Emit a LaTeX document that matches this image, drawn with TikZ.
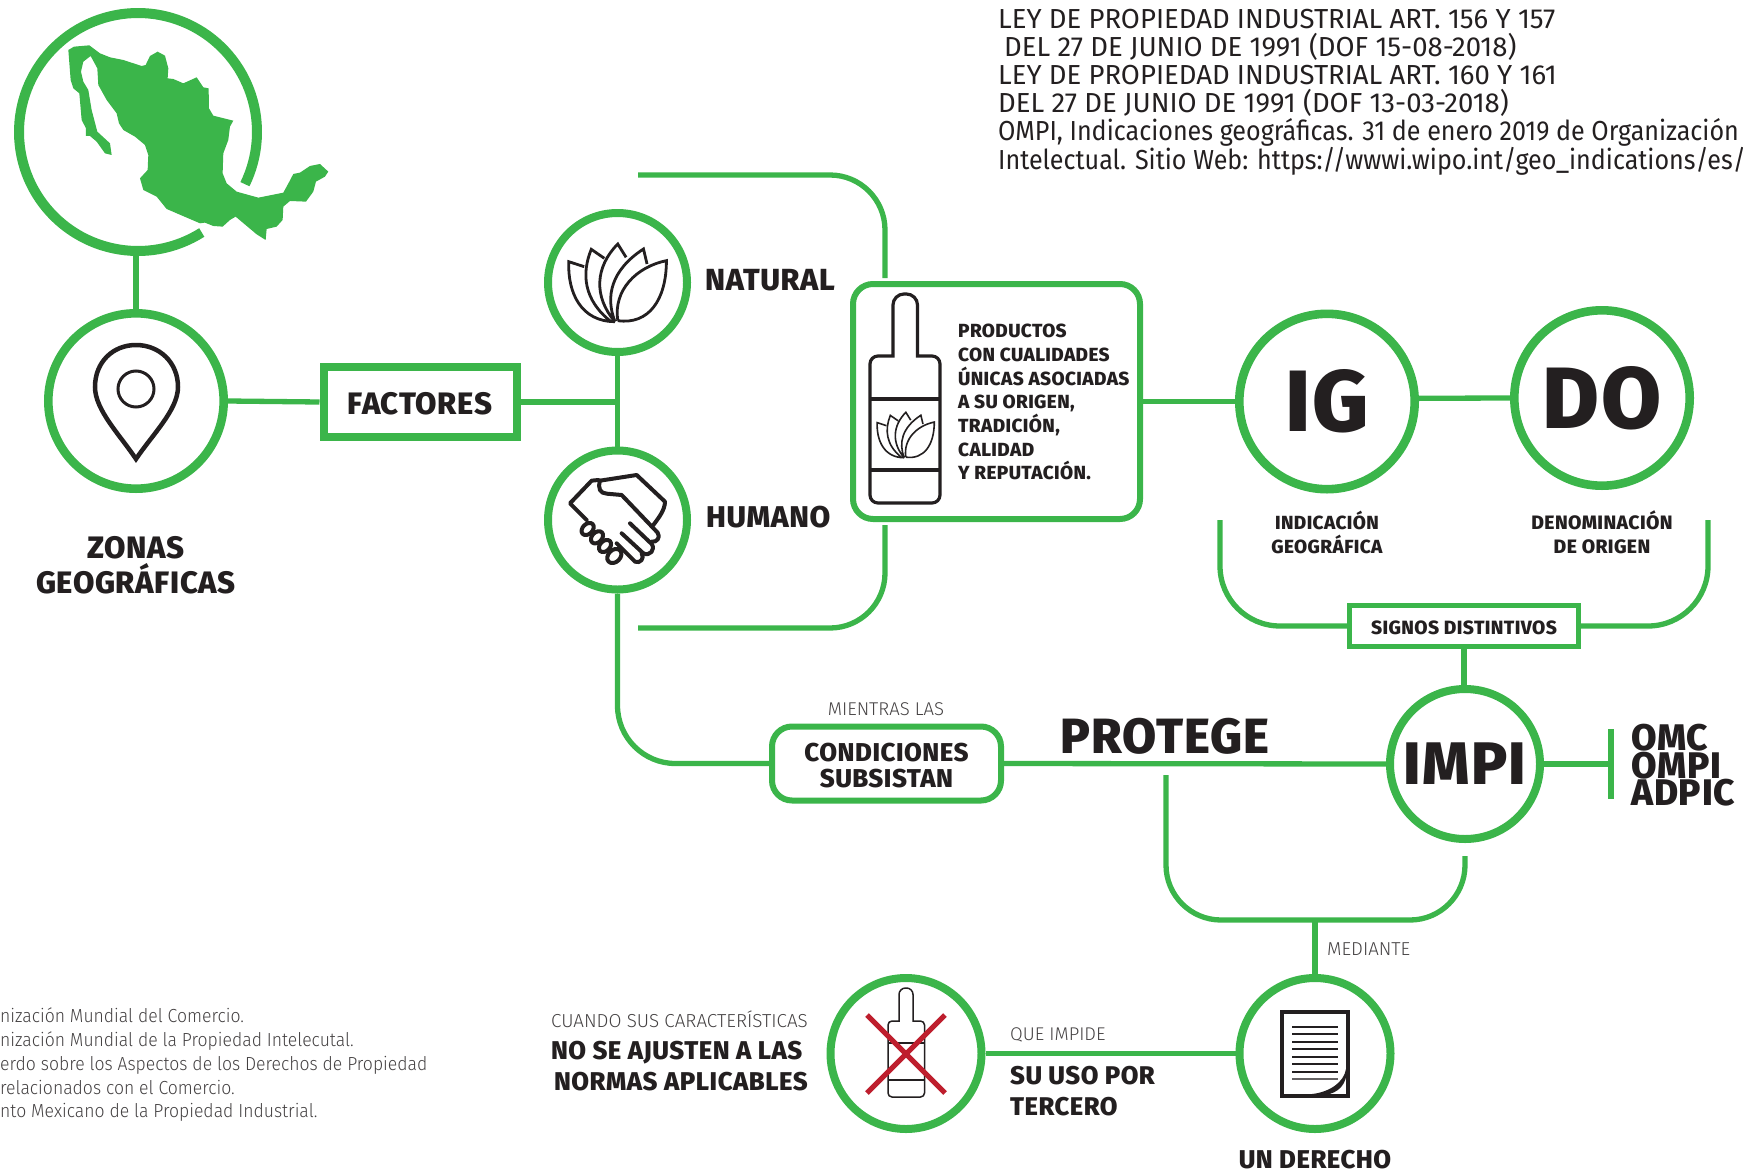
\documentclass[tikz,border=0pt]{standalone}
\usepackage{fontspec}
\usetikzlibrary{backgrounds,calc}
\setmainfont{Fira Sans}
\newfontfamily\fb[LetterSpace=2]{Fira Sans ExtraBold}
\newfontfamily\fl{Fira Sans Light}
\newfontfamily\flc[FakeStretch=0.93]{Fira Sans Light}
\newfontfamily\frc[FakeStretch=0.913]{Fira Sans}
\definecolor{gr}{HTML}{3BB54A}
\definecolor{ink}{HTML}{231F20}
\definecolor{xr}{HTML}{BE1E2D}
\newcommand{\fsz}[1]{\fontsize{#1}{#1}\selectfont}
\newcommand{\fszl}[2]{\fontsize{#1}{#2}\selectfont}
\newcommand{\lotusicon}[1]{%
\draw[ink,line width=#1,line join=miter]
 (222,362) .. controls (210,270) and (270,200) .. (345,182) .. controls (345,300) and (300,375) .. (222,362)
 (215,365) .. controls (190,290) and (205,210) .. (287,147) -- (296,192)
 (215,365) .. controls (160,290) and (165,200) .. (222,132) -- (243,172)
 (205,365) .. controls (135,300) and (130,220) .. (155,148) -- (188,175)
 (215,365) .. controls (130,365) and (95,280) .. (98,185) -- (137,200);}
\newcommand{\neckR}{11pt}
\newcommand{\shoulderR}{8pt}
\newcommand{\bottleicon}[9]{%
\draw[ink] (#3,#6) [rounded corners=\neckR] -- (#3,#5) -- (#4,#5) [sharp corners] -- (#4,#6) [rounded corners=\shoulderR] -- (#2,#6) -- (#2,#9) -- (#1,#9) -- (#1,#6) [sharp corners] -- cycle;
\draw[ink] (#1,#7) -- (#2,#7) (#1,#8) -- (#2,#8);}
\tikzset{
 x=1pt,y=-1pt,
 conn/.style={draw=gr,line width=5.3pt},
 ring/.style={circle,draw=gr,line width=8pt,fill=white,inner sep=0pt,minimum size=#1},
 bigring/.style={circle,draw=gr,line width=8.6pt,fill=white,inner sep=0pt,minimum size=#1},
 rbox/.style={draw=gr,fill=white,line width=6pt,rounded corners=20pt,inner sep=0pt},
 sbox/.style={draw=gr,fill=white,inner sep=0pt},
 lab/.style={text=ink,inner sep=0pt},
 thin lab/.style={text=ink!85,inner sep=0pt},
 ref/.style={text=ink,inner sep=0pt},
}
\begin{document}
\begin{tikzpicture}
\clip (0,0) rectangle (1743,1170);
% circles
\node[circle,inner sep=0pt,minimum size=247pt] (map) at (138,132) {};
\node[bigring=175.4pt] (pin) at (136,401) {};
\node[ring=139pt] (natural) at (617.5,282.5) {};
\node[ring=139pt] (humano) at (617.5,520) {};
\node[bigring=175.4pt] (ig) at (1327,401.5) {};
\node[bigring=175.4pt] (do) at (1602,398) {};
\node[ring=150pt] (impi) at (1465,764) {};
\node[ring=151pt] (der) at (1315,1053.5) {};
\node[ring=151pt] (xc) at (906,1053.5) {};
% boxes
\node[sbox,line width=8pt,minimum width=193pt,minimum height=70pt] (factores) at (420,402) {};
\node[rbox,minimum width=287pt,minimum height=235pt] (prod) at (996.5,401.5) {};
\node[rbox,minimum width=229pt,minimum height=74pt] (cond) at (886.5,763.5) {};
\node[sbox,line width=5pt,minimum width=229pt,minimum height=41pt] (signos) at (1464,626) {};
% free ends
\coordinate (bt) at (638,175);
\coordinate (btc) at (885,175);
\coordinate (bte) at (885,278);
\coordinate (bb) at (638,628);
\coordinate (bbc) at (885,628);
\coordinate (bbe) at (885,525);
\coordinate (sl) at (1220,520);
\coordinate (sr) at (1708,520);
\coordinate (bl) at (1166,775);
\coordinate (bc) at (1465,920);
\coordinate (br) at (1465,856);
\coordinate (tickt) at (1611,729);
\coordinate (tickb) at (1611,799);
\coordinate (tickm) at (1611,764);
% connectors
\begin{scope}[on background layer]
\draw[conn] (pin.north |- map.south) -- (pin.north);
\draw[conn] (pin.east) -- (factores.west);
\draw[conn] (factores.east) -- (factores.east -| natural.south);
\draw[conn] (natural.south) -- (humano.north);
\draw[conn,rounded corners=55pt] (bt) -- (btc) -- (bte);
\draw[conn,rounded corners=55pt] (bb) -- (bbc) -- (bbe);
\draw[conn] (prod.east) -- (ig.west);
\draw[conn] (ig.2) -- (do.west);
\draw[conn,rounded corners=60pt] (sl) |- (signos.west);
\draw[conn,rounded corners=60pt] (sr) |- (signos.east);
\draw[conn] (signos.south) -- (signos.south |- impi.north);
\draw[conn,rounded corners=58pt] (humano.south) |- (cond.west);
\draw[conn] (cond.east) -- (impi.west);
\draw[conn] (impi.east) -- (tickm);
\draw[conn] (tickt) -- (tickb);
\draw[conn,rounded corners=55pt] (bl) |- (bc) -- (br);
\draw[conn] (der.north |- bc) -- (der.north);
\draw[conn] (xc.east) -- (der.west);
\end{scope}
% map circle arc
\draw[gr,line width=10pt] plot[domain=57.6:386,samples=120] ({138+119*cos(\x)},{132+119*sin(\x)});
% Mexico
\begin{scope}[xscale=0.3333,yscale=0.3333]
\fill[gr] (205,150)--(222,140)--(268,136)--(300,160)--(330,172)--(370,180)--(425,198)--(437,195)--(450,168)--(473,155)--(495,167)--(505,205)--(503,235)--(520,237)--(550,250)--(590,232)--(610,262)--(626,265)--(627,325)--(640,347)--(700,362)--(690,380)--(685,420)--(670,460)--(668,520)--(680,550)--(710,575)--(775,593)--(850,578)--(868,545)--(880,522)--(900,518)--(930,498)--(960,492)--(985,515)--(975,530)--(948,545)--(940,575)--(918,605)--(870,603)--(850,620)--(848,660)--(830,680)--(800,687)--(797,720)--(770,703)--(707,650)--(690,660)--(668,680)--(640,678)--(615,668)--(600,670)--(500,627)--(470,590)--(430,570)--(420,535)--(443,510)--(445,465)--(435,435)--(405,410)--(370,390)--(357,370)--(350,340)--(320,300)--(295,255)--(292,205)--(272,168)--(250,185)--(243,215)--(250,245)--(265,270)--(275,330)--(292,395)--(330,430)--(335,465)--(315,460)--(290,425)--(270,408)--(258,408)--(258,385)--(245,360)--(238,280)--(220,265)--(212,240)--cycle;
\end{scope}
% pin icon
\draw[ink,line width=4.5pt,line join=miter] (136,459) .. controls (120,435) and (95,410) .. (95,387) .. controls (95,362) and (113,345) .. (136,345) .. controls (159,345) and (178,362) .. (178,387) .. controls (178,410) and (152,435) .. (136,459) -- cycle;
\draw[ink,line width=3pt] (136,389) circle[radius=18pt];
% lotus
\begin{scope}[shift={(530,200)},xscale=0.3954,yscale=0.3333]
\lotusicon{2.8pt}
\end{scope}
% handshake
\begin{scope}[shift={(555,460)},xscale=0.3333,yscale=0.3333,ink,line width=4pt,line join=round,line cap=round]
\draw (95,180) -- (45,130) -- (110,62) -- (130,60);
\draw (135,62) .. controls (128,85) and (135,100) .. (155,101) -- (200,105) -- (308,218) .. controls (318,232) and (305,248) .. (290,245);
\draw (135,62) -- (245,45) -- (330,125) .. controls (330,150) and (310,175) .. (295,195);
\draw (225,190) -- (290,252) .. controls (302,268) and (285,290) .. (265,280) -- (200,220);
\draw (260,280) .. controls (270,295) and (255,312) .. (240,305) -- (185,250);
\draw[rotate around={45:(98,207)}] (98,207) ellipse[x radius=21,y radius=15];
\draw[rotate around={45:(126,232)}] (126,232) ellipse[x radius=21,y radius=15];
\draw[rotate around={45:(150,258)}] (150,258) ellipse[x radius=21,y radius=15];
\draw[rotate around={45:(178,288)}] (178,288) ellipse[x radius=24,y radius=18];
\end{scope}
% bottle in box
\begin{scope}[line width=3.2pt]
\bottleicon{870}{940}{893}{917.5}{294}{356}{399}{470}{503}
\end{scope}
\begin{scope}[shift={(530,200)},xscale=0.3954,yscale=0.3333]
\begin{scope}[shift={(878,637)},scale=0.585,shift={(-98,-132)}]
\lotusicon{1.6pt}
\end{scope}
\end{scope}
% crossed bottle
\renewcommand{\neckR}{6.5pt}
\renewcommand{\shoulderR}{4pt}
\begin{scope}[line width=1.5pt]
\bottleicon{888}{924.5}{899}{913}{988}{1021}{1043}{1080}{1097}
\end{scope}
\draw[xr,line width=5pt] (867,1015) -- (945,1093) (945,1015) -- (867,1093);
% document icon
\draw[ink,line width=3.5pt] (1282,1012) rectangle (1348,1096);
\foreach \yy in {1027,1034,1042,1049,1057,1064,1072}{\draw[ink,line width=1.8pt] (1292,\yy) -- (1338,\yy);}
\draw[ink!70,line width=1.5pt] (1292,1079) -- (1338,1079);
\fill[ink] (1346,1069) .. controls (1344,1082) and (1330,1092) .. (1312,1094) -- (1325,1095) .. controls (1338,1093) and (1347,1085) .. (1347,1069) -- cycle;
% labels
\node[lab,font=\fb\fsz{31}] (tfac) at (420,404) {FACTORES};
\node[lab,font=\fb\fszl{31}{34.5},align=center] (tzon) at (136,565) {ZONAS\\GEOGRÁFICAS};
\node[lab,anchor=west,font=\fb\fsz{30.5}] (tnat) at (705,280) {NATURAL};
\node[lab,anchor=west,font=\fb\fsz{30}] (thum) at (706,517) {HUMANO};
\node[lab,anchor=north west,align=left,font=\fb\fszl{19}{23.7}] (tprod) at (958,324) {PRODUCTOS\\CON CUALIDADES\\ÚNICAS ASOCIADAS\\A SU ORIGEN,\\TRADICIÓN,\\CALIDAD\\Y REPUTACIÓN.};
\node[lab,font=\fb\fsz{87}] (tig) at (ig) {IG};
\node[lab,font=\fb\fsz{87}] (tdo) at (do) {DO};
\node[lab,align=center,font=\fb\fszl{19}{23.7}] (tind) at (1327,532.5) {INDICACIÓN\\GEOGRÁFICA};
\node[lab,align=center,font=\fb\fszl{19.4}{23.7}] (tden) at (1602,532.5) {DENOMINACIÓN\\DE ORIGEN};
\node[lab,font=\fb\fsz{19.2}] (tsig) at (1464,628) {SIGNOS DISTINTIVOS};
\node[lab,font=\fb\fsz{60}] (timpi) at (impi) {IMPI};
\node[lab,font=\fb\fsz{49.5}] (tpro) at (1165,736) {PROTEGE};
\node[lab,align=center,font=\fb\fszl{25.8}{26.5}] (tcond) at (886.5,765.5) {CONDICIONES\\SUBSISTAN};
\node[thin lab,font=\fl\fsz{18.5}] (tmie) at (886,709) {MIENTRAS LAS};
\node[lab,anchor=west,align=left,font=\fb\fszl{37}{27.5}] (tomc) at (1631,765.5) {OMC\\OMPI\\ADPIC};
\node[thin lab,anchor=west,font=\fl\fsz{18.7}] (tmed) at (1327,949) {MEDIANTE};
\node[thin lab,anchor=east,font=\fl\fsz{18.8}] (tcua) at (808,1019) {CUANDO SUS CARACTERÍSTICAS};
\node[lab,anchor=north east,align=right,font=\fb\fszl{25.7}{31.5}] (tno) at (808,1040.5) {NO SE AJUSTEN A LAS\rule{5.5pt}{0pt}\\NORMAS APLICABLES};
\node[thin lab,anchor=west,font=\fl\fsz{18.4}] (tque) at (1010,1035) {QUE IMPIDE};
\node[lab,anchor=north west,align=left,font=\fb\fszl{25.6}{31}] (tsu) at (1010,1066) {SU USO POR\\TERCERO};
\node[lab,font=\fb\fsz{25.7}] (tun) at (1315,1160) {UN DERECHO};
% references
\node[ref,anchor=north west,align=left,font=\fszl{27.5}{27.8}] (tley) at (998,9.5) {LEY DE PROPIEDAD INDUSTRIAL ART. 156 Y 157\\\hspace{6pt}DEL 27 DE JUNIO DE 1991 (DOF 15-08-2018)\\LEY DE PROPIEDAD INDUSTRIAL ART. 160 Y 161\\DEL 27 DE JUNIO DE 1991 (DOF 13-03-2018)\\{\frc OMPI, Indicaciones geográficas. 31 de enero 2019 de Organización}\\{\frc Intelectual. Sitio Web: https://wwwi.wipo.int/geo\_indications/es/}};
\node[thin lab,anchor=north west,align=left,font=\flc\fszl{18.9}{23.7}] (tnot) at (0,1008) {nización Mundial del Comercio.\\nización Mundial de la Propiedad Intelecutal.\\erdo sobre los Aspectos de los Derechos de Propiedad\\relacionados con el Comercio.\\nto Mexicano de la Propiedad Industrial.};
\end{tikzpicture}
\end{document}
